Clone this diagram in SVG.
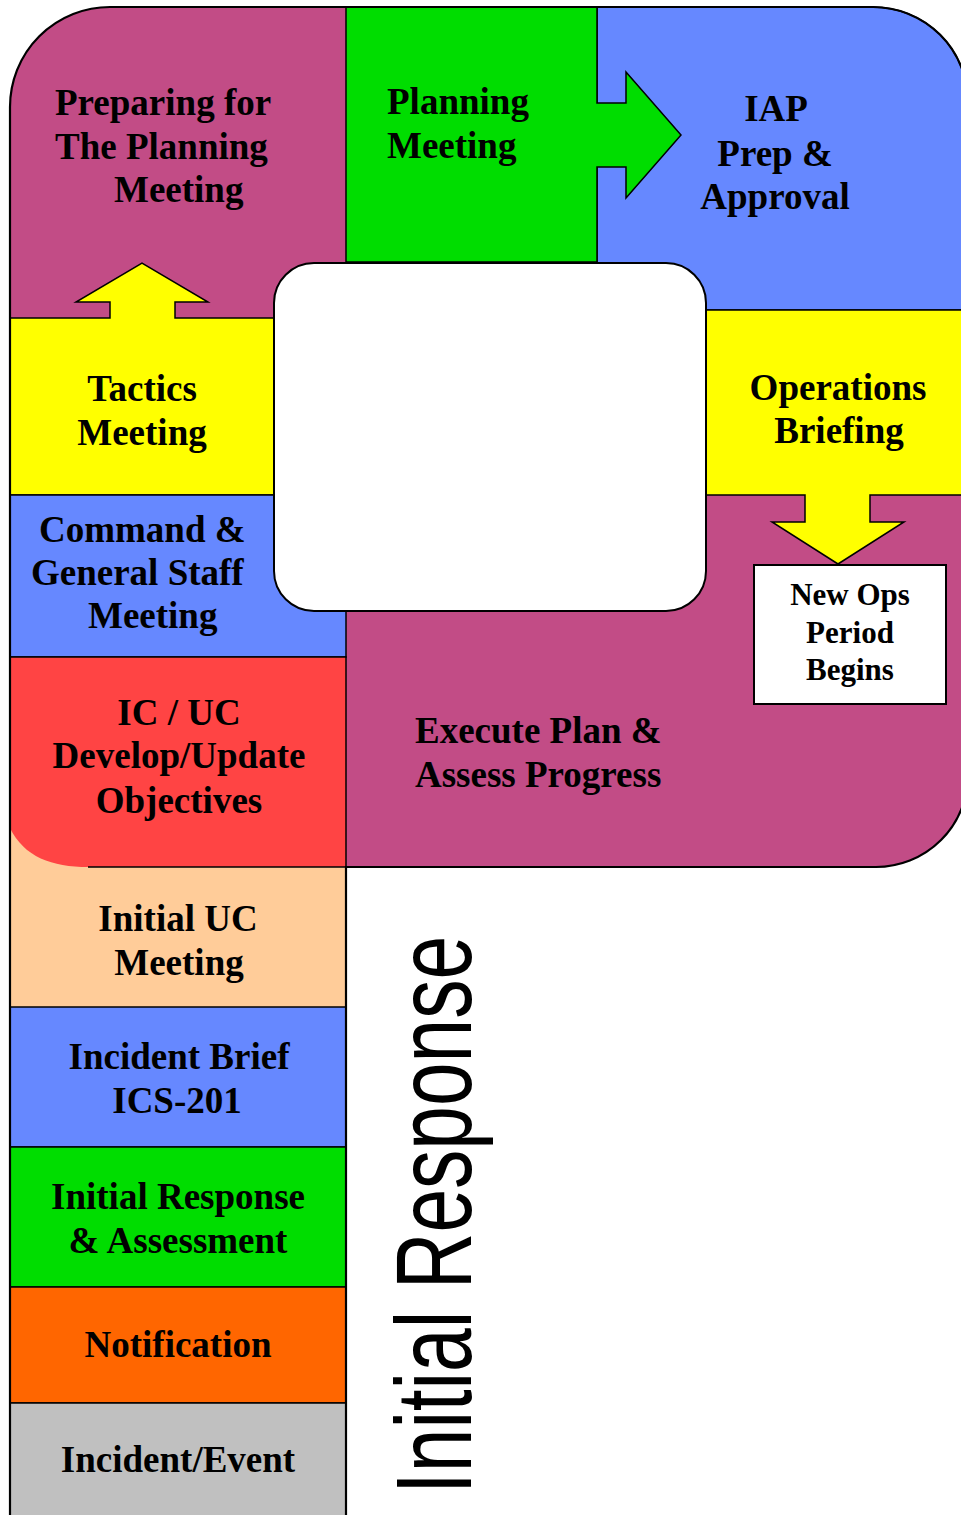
<svg xmlns="http://www.w3.org/2000/svg" width="961" height="1515" viewBox="0 0 961 1515">
<style>
.lbl{font-family:"Liberation Serif","Times New Roman",serif;font-weight:bold;font-size:37px;fill:#000}
.sm{font-size:31px}
.mid{text-anchor:middle}
.in{stroke:#000;stroke-width:1.5;stroke-linejoin:miter}
.edge{fill:none;stroke:#000;stroke-width:2.2}
</style>
<rect width="961" height="1515" fill="#fff"/>
<!-- main loop background (magenta) -->
<path d="M10,867 V107 A100,100 0 0 1 110,7 H873 A95,95 0 0 1 968,102 V775 A92,92 0 0 1 876,867 Z" fill="#C24C86"/>
<g id="preparing">
<text class="lbl" x="55" y="115">Preparing for</text>
<text class="lbl" x="55" y="159">The Planning</text>
<text class="lbl" x="114" y="202">Meeting</text>
</g>
<g id="iap">
<path d="M597,7 H873 A95,95 0 0 1 968,102 V310 H597 Z" fill="#6688FF" class="in"/>
<text class="lbl mid" x="776" y="121">IAP</text>
<text class="lbl mid" x="775" y="166">Prep &amp;</text>
<text class="lbl mid" x="775" y="209">Approval</text>
</g>
<g id="planning">
<path d="M346,7 H597 V103 H626 V72 L681,135 L626,198 V167 H597 V262 H346 Z" fill="#00DD00" class="in"/>
<text class="lbl" x="387" y="114">Planning</text>
<text class="lbl" x="387" y="158">Meeting</text>
</g>
<g id="tactics">
<path d="M10,318 H110 V302 H76 L142,263 L208,302 H175 V318 H275 V495 H10 Z" fill="#FFFF00" class="in"/>
<text class="lbl mid" x="142" y="401">Tactics</text>
<text class="lbl mid" x="142" y="445">Meeting</text>
</g>
<g id="operations">
<path d="M706,310 H968 V495 H870 V522 H904 L838,564 L772,522 H805 V495 H706 Z" fill="#FFFF00" class="in"/>
<text class="lbl mid" x="838" y="400">Operations</text>
<text class="lbl mid" x="839" y="443">Briefing</text>
</g>
<g id="command">
<rect x="10" y="495" width="336" height="162" fill="#6688FF" class="in"/>
<text class="lbl" x="39" y="542">Command &amp;</text>
<text class="lbl" x="31" y="585">General Staff</text>
<text class="lbl" x="88" y="628">Meeting</text>
</g>
<g id="initial-uc">
<rect x="10" y="820" width="336" height="187" fill="#FFCC99"/>
<text class="lbl mid" x="178" y="931">Initial UC</text>
<text class="lbl mid" x="179" y="975">Meeting</text>
</g>
<g id="ic-uc">
<path d="M10,657 H346 V867 H88 C52,867 24,857 10,828 Z" fill="#FF4444"/>
<path d="M10,657 H346 V867 H88" fill="none" class="in"/>
<text class="lbl mid" x="179" y="725">IC / UC</text>
<text class="lbl mid" x="179" y="768">Develop/Update</text>
<text class="lbl mid" x="179" y="813">Objectives</text>
</g>
<g id="execute">
<text class="lbl" x="415" y="743">Execute Plan &amp;</text>
<text class="lbl" x="415" y="787">Assess Progress</text>
</g>
<g id="new-ops">
<rect x="754" y="565" width="192" height="139" fill="#fff" stroke="#000" stroke-width="2"/>
<text class="lbl sm mid" x="850" y="605">New Ops</text>
<text class="lbl sm mid" x="850" y="643">Period</text>
<text class="lbl sm mid" x="850" y="680">Begins</text>
</g>
<g id="incident-brief">
<rect x="10" y="1007" width="336" height="140" fill="#6688FF" class="in"/>
<text class="lbl mid" x="179" y="1069">Incident Brief</text>
<text class="lbl mid" x="177" y="1113">ICS-201</text>
</g>
<g id="initial-response">
<rect x="10" y="1147" width="336" height="140" fill="#00DD00" class="in"/>
<text class="lbl mid" x="178" y="1209">Initial Response</text>
<text class="lbl mid" x="178" y="1253">&amp; Assessment</text>
</g>
<g id="notification">
<rect x="10" y="1287" width="336" height="116" fill="#FF6600" class="in"/>
<text class="lbl mid" x="178" y="1357">Notification</text>
</g>
<g id="incident-event">
<rect x="10" y="1403" width="336" height="120" fill="#C0C0C0" class="in"/>
<text class="lbl mid" x="178" y="1472">Incident/Event</text>
</g>
<g id="center">
<rect x="274" y="263" width="432" height="348" rx="40" ry="40" fill="#fff" stroke="#000" stroke-width="2"/>
</g>
<g id="connectors">
<path class="edge" d="M10,1520 V107 A100,100 0 0 1 110,7 H873 A95,95 0 0 1 968,102 V775 A92,92 0 0 1 876,867 H346 V1520"/>
</g>
<g id="initial-response-label">
<text transform="translate(471,1494) rotate(-90)" x="0" y="0" font-family="Liberation Sans, Arial, sans-serif" font-size="107" textLength="558" lengthAdjust="spacingAndGlyphs">Initial Response</text>
</g>
</svg>
